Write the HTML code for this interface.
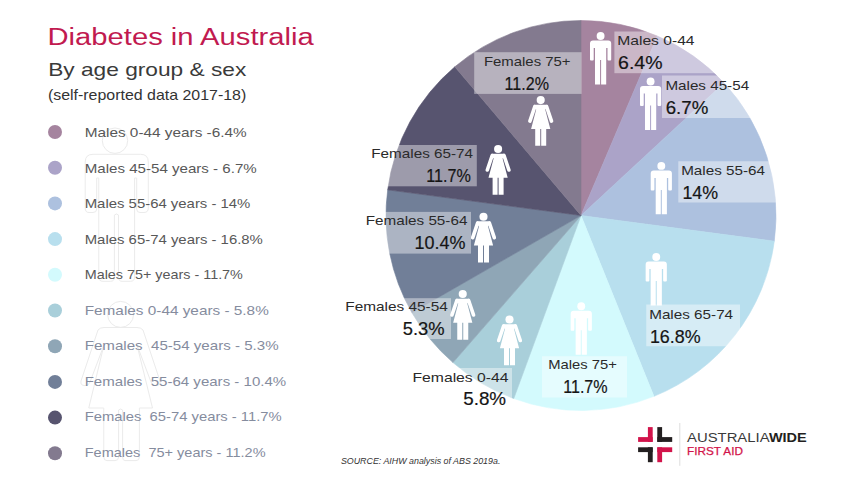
<!DOCTYPE html>
<html><head><meta charset="utf-8"><style>
html,body{margin:0;padding:0;background:#fff;width:854px;height:480px;overflow:hidden}
svg{display:block}
text{font-family:"Liberation Sans",sans-serif}
</style></head><body>
<svg width="854" height="480" viewBox="0 0 854 480">
<rect width="854" height="480" fill="#fff"/>

<g fill="none" stroke="#ebebeb" stroke-width="1">
 <circle cx="115" cy="140.7" r="12.7"/>
 <path d="M85.2,162 Q85.2,154.3 93,154.3 L140.5,154.3 Q148.3,154.3 148.3,162 L148.3,208 Q148.3,212.5 144,212.5 L140,212.5 Q136.7,212.5 136.7,209 L136.7,178 L134.6,178 L134.6,277 Q134.6,281.3 130.5,281.3 L122,281.3 Q118.5,281.3 118.5,277 L118.5,215 Q116.5,213 114.4,215 L114.4,277 Q114.4,281.3 110.5,281.3 L103,281.3 Q98.75,281.3 98.75,277 L98.75,178 L96.7,178 L96.7,209 Q96.7,212.5 93,212.5 L89,212.5 Q85.2,212.5 85.2,208 Z"/>
 <circle cx="120.6" cy="314.4" r="13"/>
 <path d="M98,330 Q100,327.5 104,327.5 L137,327.5 Q141,327.5 143,330 L160,381 Q161,385.6 156,385.6 Q152,385.6 151,382 L137,345 L152.5,408 L139.4,408 L139.4,457 Q139.4,460.6 136,460.6 L125,460.6 Q122.6,460.6 122.6,457 L122.6,410 Q120.6,408 118.6,410 L118.6,457 Q118.6,460.6 115,460.6 L107,460.6 Q103.75,460.6 103.75,457 L103.75,408 L88.75,408 L104,345 L90,382 Q89,385.6 85,385.6 Q80,385.6 81,381 Z"/>
</g>
<circle cx="55" cy="132.00" r="7" fill="#a5849f"/><text x="84.7" y="137.10" textLength="162.00" lengthAdjust="spacingAndGlyphs" font-size="13.1" fill="#585858" xml:space="preserve">Males 0-44 years -6.4%</text><circle cx="55" cy="167.70" r="7" fill="#aba3c8"/><text x="84.7" y="172.60" textLength="172.10" lengthAdjust="spacingAndGlyphs" font-size="13.1" fill="#585858" xml:space="preserve">Males 45-54 years - 6.7%</text><circle cx="55" cy="203.40" r="7" fill="#adc1df"/><text x="84.7" y="208.10" textLength="165.70" lengthAdjust="spacingAndGlyphs" font-size="13.1" fill="#585858" xml:space="preserve">Males 55-64 years - 14%</text><circle cx="55" cy="239.10" r="7" fill="#b8dfee"/><text x="84.7" y="243.60" textLength="178.20" lengthAdjust="spacingAndGlyphs" font-size="13.1" fill="#585858" xml:space="preserve">Males 65-74 years - 16.8%</text><circle cx="55" cy="274.80" r="7" fill="#d3fafd"/><text x="84.7" y="279.10" textLength="158.20" lengthAdjust="spacingAndGlyphs" font-size="13.1" fill="#585858" xml:space="preserve">Males 75+ years - 11.7%</text><circle cx="55" cy="310.50" r="7" fill="#a9cfda"/><text x="84.7" y="314.60" textLength="184.10" lengthAdjust="spacingAndGlyphs" font-size="13.1" fill="#858c9e" xml:space="preserve">Females 0-44 years - 5.8%</text><circle cx="55" cy="346.20" r="7" fill="#8fa6b6"/><text x="84.7" y="350.10" textLength="193.90" lengthAdjust="spacingAndGlyphs" font-size="13.1" fill="#858c9e" xml:space="preserve">Females  45-54 years - 5.3%</text><circle cx="55" cy="381.90" r="7" fill="#717f98"/><text x="84.7" y="385.60" textLength="201.50" lengthAdjust="spacingAndGlyphs" font-size="13.1" fill="#858c9e" xml:space="preserve">Females  55-64 years - 10.4%</text><circle cx="55" cy="417.60" r="7" fill="#57546f"/><text x="84.7" y="421.10" textLength="197.00" lengthAdjust="spacingAndGlyphs" font-size="13.1" fill="#858c9e" xml:space="preserve">Females  65-74 years - 11.7%</text><circle cx="55" cy="453.30" r="7" fill="#837a8f"/><text x="84.7" y="456.60" textLength="180.90" lengthAdjust="spacingAndGlyphs" font-size="13.1" fill="#858c9e" xml:space="preserve">Females  75+ years - 11.2%</text>
<text x="47.50" y="44.70" textLength="266.20" lengthAdjust="spacingAndGlyphs" font-size="23.5" fill="#c11a50" font-weight="normal" font-style="normal">Diabetes in Australia</text><text x="48.20" y="76.10" textLength="198.10" lengthAdjust="spacingAndGlyphs" font-size="18.2" fill="#3a3a3a" font-weight="normal" font-style="normal">By age group &amp; sex</text><text x="47.90" y="100.00" textLength="198.40" lengthAdjust="spacingAndGlyphs" font-size="15" fill="#333333" font-weight="normal" font-style="normal">(self-reported data 2017-18)</text><text x="340.90" y="464.10" textLength="159.50" lengthAdjust="spacingAndGlyphs" font-size="9" fill="#333333" font-weight="normal" font-style="italic">SOURCE: AIHW analysis of ABS 2019a.</text>
<path d="M581,215.5 L581.00,20.50 A195,195 0 0 1 657.32,36.05 Z" fill="#a5849f" stroke="#a5849f" stroke-width="0.6" stroke-linejoin="round"/><path d="M581,215.5 L657.32,36.05 A195,195 0 0 1 723.98,82.91 Z" fill="#aba3c8" stroke="#aba3c8" stroke-width="0.6" stroke-linejoin="round"/><path d="M581,215.5 L723.98,82.91 A195,195 0 0 1 774.30,241.16 Z" fill="#adc1df" stroke="#adc1df" stroke-width="0.6" stroke-linejoin="round"/><path d="M581,215.5 L774.30,241.16 A195,195 0 0 1 653.92,396.35 Z" fill="#b8dfee" stroke="#b8dfee" stroke-width="0.6" stroke-linejoin="round"/><path d="M581,215.5 L653.92,396.35 A195,195 0 0 1 513.79,398.55 Z" fill="#d3fafd" stroke="#d3fafd" stroke-width="0.6" stroke-linejoin="round"/><path d="M581,215.5 L513.79,398.55 A195,195 0 0 1 452.97,362.58 Z" fill="#a9cfda" stroke="#a9cfda" stroke-width="0.6" stroke-linejoin="round"/><path d="M581,215.5 L452.97,362.58 A195,195 0 0 1 411.92,312.65 Z" fill="#8fa6b6" stroke="#8fa6b6" stroke-width="0.6" stroke-linejoin="round"/><path d="M581,215.5 L411.92,312.65 A195,195 0 0 1 387.70,189.84 Z" fill="#717f98" stroke="#717f98" stroke-width="0.6" stroke-linejoin="round"/><path d="M581,215.5 L387.70,189.84 A195,195 0 0 1 454.82,66.82 Z" fill="#57546f" stroke="#57546f" stroke-width="0.6" stroke-linejoin="round"/><path d="M581,215.5 L454.82,66.82 A195,195 0 0 1 581.00,20.50 Z" fill="#837a8f" stroke="#837a8f" stroke-width="0.6" stroke-linejoin="round"/>
<rect x="614.4" y="31.5" width="165.60" height="41.70" fill="#fff" fill-opacity="0.42"/><rect x="662" y="75.5" width="138.00" height="42.50" fill="#fff" fill-opacity="0.42"/><rect x="678.3" y="161.25" width="121.70" height="41.25" fill="#fff" fill-opacity="0.42"/><rect x="646.25" y="304.5" width="93.75" height="41.75" fill="#fff" fill-opacity="0.42"/><rect x="542" y="356.25" width="85.00" height="41.25" fill="#fff" fill-opacity="0.42"/><rect x="380" y="368" width="132.00" height="30.00" fill="#fff" fill-opacity="0.42"/><rect x="330" y="298.2" width="121.00" height="40.80" fill="#fff" fill-opacity="0.42"/><rect x="350" y="211.9" width="121.00" height="41.70" fill="#fff" fill-opacity="0.42"/><rect x="350" y="145" width="126.80" height="41.30" fill="#fff" fill-opacity="0.42"/><rect x="474.2" y="52.2" width="107.40" height="41.70" fill="#fff" fill-opacity="0.42"/>
<g transform="translate(600.6,36)" fill="#fff"><circle cx="0" cy="0" r="3.95"/><path d="M-10.6,7.5 Q-10.6,4.55 -7.6,4.55 L7.6,4.55 Q10.6,4.55 10.6,7.5 L10.6,23.5 Q10.6,24.5 9.6,24.5 L7.9,24.5 Q6.9,24.5 6.9,23.5 L6.9,12 L5.6,12 L5.6,48.4 L0.5,48.4 L0.5,24 L-0.5,24 L-0.5,48.4 L-5.6,48.4 L-5.6,12 L-6.9,12 L-6.9,23.5 Q-6.9,24.5 -7.9,24.5 L-9.6,24.5 Q-10.6,24.5 -10.6,23.5 Z"/></g><g transform="translate(650.6,81.5)" fill="#fff"><circle cx="0" cy="0" r="3.95"/><path d="M-10.6,7.5 Q-10.6,4.55 -7.6,4.55 L7.6,4.55 Q10.6,4.55 10.6,7.5 L10.6,23.5 Q10.6,24.5 9.6,24.5 L7.9,24.5 Q6.9,24.5 6.9,23.5 L6.9,12 L5.6,12 L5.6,48.4 L0.5,48.4 L0.5,24 L-0.5,24 L-0.5,48.4 L-5.6,48.4 L-5.6,12 L-6.9,12 L-6.9,23.5 Q-6.9,24.5 -7.9,24.5 L-9.6,24.5 Q-10.6,24.5 -10.6,23.5 Z"/></g><g transform="translate(661.3,165.9)" fill="#fff"><circle cx="0" cy="0" r="3.95"/><path d="M-10.6,7.5 Q-10.6,4.55 -7.6,4.55 L7.6,4.55 Q10.6,4.55 10.6,7.5 L10.6,23.5 Q10.6,24.5 9.6,24.5 L7.9,24.5 Q6.9,24.5 6.9,23.5 L6.9,12 L5.6,12 L5.6,48.4 L0.5,48.4 L0.5,24 L-0.5,24 L-0.5,48.4 L-5.6,48.4 L-5.6,12 L-6.9,12 L-6.9,23.5 Q-6.9,24.5 -7.9,24.5 L-9.6,24.5 Q-10.6,24.5 -10.6,23.5 Z"/></g><g transform="translate(656.25,257)" fill="#fff"><circle cx="0" cy="0" r="3.95"/><path d="M-10.6,7.5 Q-10.6,4.55 -7.6,4.55 L7.6,4.55 Q10.6,4.55 10.6,7.5 L10.6,23.5 Q10.6,24.5 9.6,24.5 L7.9,24.5 Q6.9,24.5 6.9,23.5 L6.9,12 L5.6,12 L5.6,48.4 L0.5,48.4 L0.5,24 L-0.5,24 L-0.5,48.4 L-5.6,48.4 L-5.6,12 L-6.9,12 L-6.9,23.5 Q-6.9,24.5 -7.9,24.5 L-9.6,24.5 Q-10.6,24.5 -10.6,23.5 Z"/></g><g transform="translate(581.25,306.25)" fill="#fff"><circle cx="0" cy="0" r="3.95"/><path d="M-10.6,7.5 Q-10.6,4.55 -7.6,4.55 L7.6,4.55 Q10.6,4.55 10.6,7.5 L10.6,23.5 Q10.6,24.5 9.6,24.5 L7.9,24.5 Q6.9,24.5 6.9,23.5 L6.9,12 L5.6,12 L5.6,48.4 L0.5,48.4 L0.5,24 L-0.5,24 L-0.5,48.4 L-5.6,48.4 L-5.6,12 L-6.9,12 L-6.9,23.5 Q-6.9,24.5 -7.9,24.5 L-9.6,24.5 Q-10.6,24.5 -10.6,23.5 Z"/></g><g transform="translate(509.5,319.5)" fill="#fff"><circle cx="0" cy="0" r="4.05"/><path d="M-6.5,4.65 L6.5,4.65 L7.3,6.5 L4.5,9.5 L9.6,28.8 L5.5,28.8 L5.5,45.7 L0.5,45.7 L0.5,28.8 L-0.5,28.8 L-0.5,45.7 L-5.5,45.7 L-5.5,28.8 L-9.6,28.8 L-4.5,9.5 L-7.3,6.5 Z"/><line x1="-5.9" y1="6.5" x2="-10.8" y2="21" stroke="#fff" stroke-width="3.6" stroke-linecap="round"/><line x1="5.9" y1="6.5" x2="10.8" y2="21" stroke="#fff" stroke-width="3.6" stroke-linecap="round"/></g><g transform="translate(462.75,294)" fill="#fff"><circle cx="0" cy="0" r="4.05"/><path d="M-6.5,4.65 L6.5,4.65 L7.3,6.5 L4.5,9.5 L9.6,28.8 L5.5,28.8 L5.5,45.7 L0.5,45.7 L0.5,28.8 L-0.5,28.8 L-0.5,45.7 L-5.5,45.7 L-5.5,28.8 L-9.6,28.8 L-4.5,9.5 L-7.3,6.5 Z"/><line x1="-5.9" y1="6.5" x2="-10.8" y2="21" stroke="#fff" stroke-width="3.6" stroke-linecap="round"/><line x1="5.9" y1="6.5" x2="10.8" y2="21" stroke="#fff" stroke-width="3.6" stroke-linecap="round"/></g><g transform="translate(483.5,216.7)" fill="#fff"><circle cx="0" cy="0" r="4.05"/><path d="M-6.5,4.65 L6.5,4.65 L7.3,6.5 L4.5,9.5 L9.6,28.8 L5.5,28.8 L5.5,45.7 L0.5,45.7 L0.5,28.8 L-0.5,28.8 L-0.5,45.7 L-5.5,45.7 L-5.5,28.8 L-9.6,28.8 L-4.5,9.5 L-7.3,6.5 Z"/><line x1="-5.9" y1="6.5" x2="-10.8" y2="21" stroke="#fff" stroke-width="3.6" stroke-linecap="round"/><line x1="5.9" y1="6.5" x2="10.8" y2="21" stroke="#fff" stroke-width="3.6" stroke-linecap="round"/></g><g transform="translate(498.1,149)" fill="#fff"><circle cx="0" cy="0" r="4.05"/><path d="M-6.5,4.65 L6.5,4.65 L7.3,6.5 L4.5,9.5 L9.6,28.8 L5.5,28.8 L5.5,45.7 L0.5,45.7 L0.5,28.8 L-0.5,28.8 L-0.5,45.7 L-5.5,45.7 L-5.5,28.8 L-9.6,28.8 L-4.5,9.5 L-7.3,6.5 Z"/><line x1="-5.9" y1="6.5" x2="-10.8" y2="21" stroke="#fff" stroke-width="3.6" stroke-linecap="round"/><line x1="5.9" y1="6.5" x2="10.8" y2="21" stroke="#fff" stroke-width="3.6" stroke-linecap="round"/></g><g transform="translate(540.7,100.1)" fill="#fff"><circle cx="0" cy="0" r="4.05"/><path d="M-6.5,4.65 L6.5,4.65 L7.3,6.5 L4.5,9.5 L9.6,28.8 L5.5,28.8 L5.5,45.7 L0.5,45.7 L0.5,28.8 L-0.5,28.8 L-0.5,45.7 L-5.5,45.7 L-5.5,28.8 L-9.6,28.8 L-4.5,9.5 L-7.3,6.5 Z"/><line x1="-5.9" y1="6.5" x2="-10.8" y2="21" stroke="#fff" stroke-width="3.6" stroke-linecap="round"/><line x1="5.9" y1="6.5" x2="10.8" y2="21" stroke="#fff" stroke-width="3.6" stroke-linecap="round"/></g>
<text x="617.20" y="44.80" textLength="77.40" lengthAdjust="spacingAndGlyphs" font-size="12.8" fill="#2a2a2a" font-weight="normal" font-style="normal">Males 0-44</text><text stroke="#151515" stroke-width="0.2" x="618.10" y="68.80" textLength="44.40" lengthAdjust="spacingAndGlyphs" font-size="18.6" fill="#151515" font-weight="normal" font-style="normal">6.4%</text><text x="665.40" y="90.00" textLength="83.70" lengthAdjust="spacingAndGlyphs" font-size="12.8" fill="#2a2a2a" font-weight="normal" font-style="normal">Males 45-54</text><text stroke="#151515" stroke-width="0.2" x="665.70" y="113.60" textLength="42.60" lengthAdjust="spacingAndGlyphs" font-size="18.6" fill="#151515" font-weight="normal" font-style="normal">6.7%</text><text x="681.20" y="174.80" textLength="83.80" lengthAdjust="spacingAndGlyphs" font-size="12.8" fill="#2a2a2a" font-weight="normal" font-style="normal">Males 55-64</text><text stroke="#151515" stroke-width="0.2" x="682.45" y="198.75" textLength="35.65" lengthAdjust="spacingAndGlyphs" font-size="18.6" fill="#151515" font-weight="normal" font-style="normal">14%</text><text x="649.20" y="318.75" textLength="83.90" lengthAdjust="spacingAndGlyphs" font-size="12.8" fill="#2a2a2a" font-weight="normal" font-style="normal">Males 65-74</text><text stroke="#151515" stroke-width="0.2" x="649.95" y="342.50" textLength="50.65" lengthAdjust="spacingAndGlyphs" font-size="18.6" fill="#151515" font-weight="normal" font-style="normal">16.8%</text><text x="548.20" y="368.75" textLength="68.65" lengthAdjust="spacingAndGlyphs" font-size="12.8" fill="#2a2a2a" font-weight="normal" font-style="normal">Males 75+</text><text stroke="#151515" stroke-width="0.2" x="563.20" y="392.50" textLength="44.40" lengthAdjust="spacingAndGlyphs" font-size="18.6" fill="#151515" font-weight="normal" font-style="normal">11.7%</text><text x="412.45" y="381.75" textLength="96.15" lengthAdjust="spacingAndGlyphs" font-size="12.8" fill="#2a2a2a" font-weight="normal" font-style="normal">Females 0-44</text><text stroke="#151515" stroke-width="0.2" x="463.20" y="405.00" textLength="42.90" lengthAdjust="spacingAndGlyphs" font-size="18.6" fill="#151515" font-weight="normal" font-style="normal">5.8%</text><text x="345.30" y="310.90" textLength="102.50" lengthAdjust="spacingAndGlyphs" font-size="12.8" fill="#2a2a2a" font-weight="normal" font-style="normal">Females 45-54</text><text stroke="#151515" stroke-width="0.2" x="402.80" y="334.70" textLength="41.80" lengthAdjust="spacingAndGlyphs" font-size="18.6" fill="#151515" font-weight="normal" font-style="normal">5.3%</text><text x="365.70" y="225.10" textLength="101.70" lengthAdjust="spacingAndGlyphs" font-size="12.8" fill="#2a2a2a" font-weight="normal" font-style="normal">Females 55-64</text><text stroke="#151515" stroke-width="0.2" x="414.60" y="248.80" textLength="51.00" lengthAdjust="spacingAndGlyphs" font-size="18.6" fill="#151515" font-weight="normal" font-style="normal">10.4%</text><text x="371.30" y="158.20" textLength="101.70" lengthAdjust="spacingAndGlyphs" font-size="12.8" fill="#2a2a2a" font-weight="normal" font-style="normal">Females 65-74</text><text stroke="#151515" stroke-width="0.2" x="426.30" y="182.10" textLength="44.60" lengthAdjust="spacingAndGlyphs" font-size="18.6" fill="#151515" font-weight="normal" font-style="normal">11.7%</text><text x="483.90" y="65.70" textLength="86.70" lengthAdjust="spacingAndGlyphs" font-size="12.8" fill="#2a2a2a" font-weight="normal" font-style="normal">Females 75+</text><text stroke="#151515" stroke-width="0.2" x="504.60" y="90.00" textLength="44.30" lengthAdjust="spacingAndGlyphs" font-size="18.6" fill="#151515" font-weight="normal" font-style="normal">11.2%</text>

<g fill="#d2144b">
 <rect x="647.9" y="427.1" width="4.8" height="14.8"/><rect x="638.1" y="437.1" width="14.6" height="4.8"/>
 <rect x="657.3" y="447.3" width="14.9" height="4.8"/><rect x="657.3" y="447.3" width="4.8" height="14.9"/>
</g>
<g fill="#231f20">
 <rect x="657.3" y="427.1" width="4.8" height="14.8"/><rect x="657.3" y="437.1" width="14.9" height="4.8"/>
 <rect x="638.1" y="447.3" width="14.6" height="4.8"/><rect x="647.9" y="447.3" width="4.8" height="14.9"/>
</g>
<rect x="679.3" y="423" width="1" height="42.8" fill="#dddddd"/>
<text x="687.00" y="442.40" textLength="82.60" lengthAdjust="spacingAndGlyphs" font-size="12" fill="#3a3a3a" font-weight="normal" font-style="normal">AUSTRALIA</text><text x="768.90" y="442.40" textLength="37.90" lengthAdjust="spacingAndGlyphs" font-size="12" fill="#231f20" font-weight="bold" font-style="normal">WIDE</text><text stroke="#d2144b" stroke-width="0.25" x="687.00" y="455.00" textLength="55.90" lengthAdjust="spacingAndGlyphs" font-size="11" fill="#d2144b" font-weight="normal" font-style="normal">FIRST AID</text>
</svg>
</body></html>
